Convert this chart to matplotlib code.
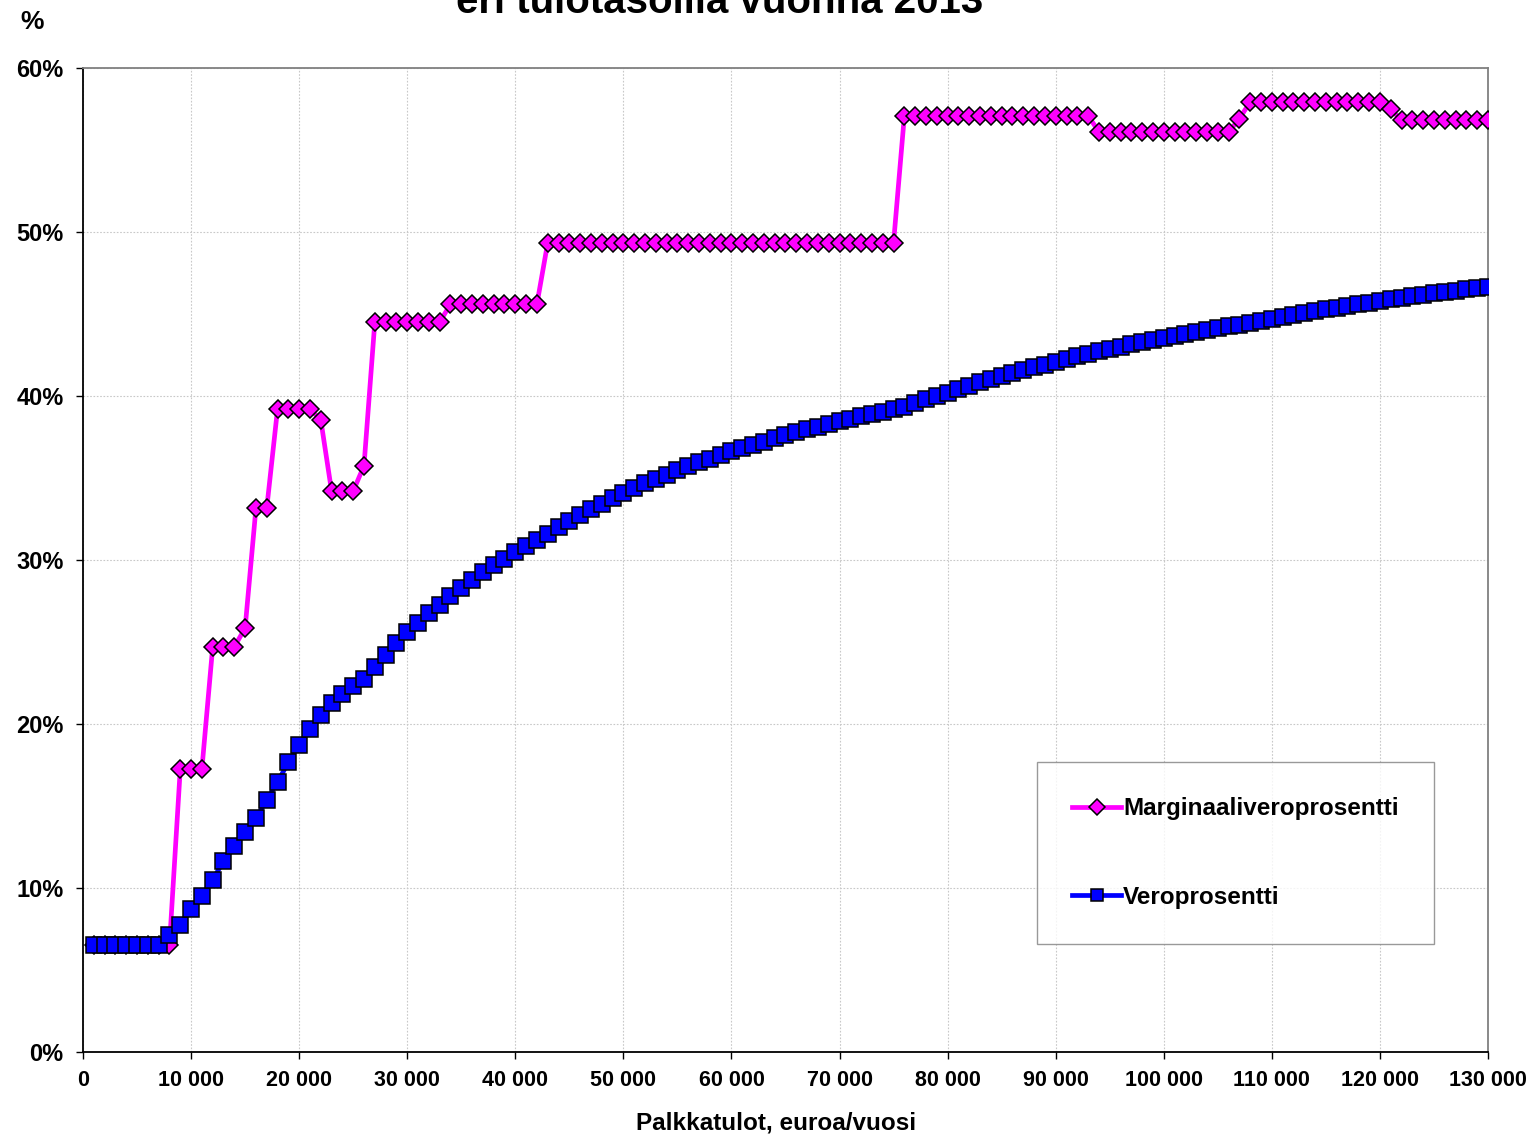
import matplotlib.pyplot as plt
from matplotlib.ticker import FuncFormatter, MultipleLocator

plt.rcParams["font.family"] = ["Liberation Sans", "DejaVu Sans"]
plt.rcParams["font.weight"] = "bold"

# Income levels, euros/year (1 000 ... 130 000)
income = list(range(1000, 131000, 1000))

# Marginal tax rate, %
marginal = (
    [6.5] * 8                                   # 1k-8k
    + [17.25] * 3                               # 9k-11k
    + [24.7] * 3                                # 12k-14k
    + [25.85]                                   # 15k
    + [33.15] * 2                               # 16k-17k
    + [39.2] * 4                                # 18k-21k
    + [38.55]                                   # 22k
    + [34.2] * 3                                # 23k-25k
    + [35.75]                                   # 26k
    + [44.5] * 7                                # 27k-33k
    + [45.6] * 9                                # 34k-42k
    + [49.35] * 33                              # 43k-75k
    + [57.1] * 18                               # 76k-93k
    + [56.1] * 13                               # 94k-106k
    + [56.9]                                    # 107k
    + [57.95] * 13                              # 108k-120k
    + [57.5]                                    # 121k
    + [56.8] * 9                                # 122k-130k
)

# Average tax rate, %
average = [
    6.5, 6.5, 6.5, 6.5, 6.5, 6.5, 6.5, 7.11, 7.76, 8.72,
    9.49, 10.51, 11.63, 12.54, 13.40, 14.27, 15.35, 16.46, 17.66, 18.74,
    19.70, 20.57, 21.28, 21.83, 22.30, 22.76, 23.50, 24.23, 24.94, 25.59,
    26.18, 26.77, 27.28, 27.79, 28.29, 28.80, 29.27, 29.72, 30.08, 30.49,
    30.87, 31.20, 31.59, 31.99, 32.36, 32.76, 33.11, 33.43, 33.78, 34.07,
    34.37, 34.68, 34.94, 35.20, 35.47, 35.71, 35.96, 36.18, 36.40, 36.63,
    36.83, 37.03, 37.21, 37.42, 37.60, 37.79, 37.96, 38.13, 38.29, 38.46,
    38.62, 38.76, 38.90, 39.04, 39.19, 39.33, 39.55, 39.80, 40.00, 40.20,
    40.41, 40.63, 40.83, 41.04, 41.20, 41.38, 41.57, 41.75, 41.91, 42.09,
    42.26, 42.42, 42.58, 42.74, 42.89, 43.01, 43.15, 43.27, 43.40, 43.54,
    43.66, 43.78, 43.90, 44.02, 44.13, 44.25, 44.35, 44.47, 44.59, 44.71,
    44.82, 44.94, 45.06, 45.16, 45.28, 45.38, 45.49, 45.59, 45.69, 45.79,
    45.89, 45.99, 46.08, 46.18, 46.26, 46.34, 46.42, 46.51, 46.59, 46.67,
]

fig = plt.figure(figsize=(15.39, 11.38), dpi=100)
ax = fig.add_axes([83 / 1539, 1 - 1052 / 1138, 1405 / 1539, 984 / 1138])

ax.plot(income, marginal, color="#FF00FF", linewidth=3.4, marker="D",
        markersize=9.5, markerfacecolor="#FF00FF", markeredgecolor="black",
        markeredgewidth=1.1, label="Marginaaliveroprosentti", zorder=3)
ax.plot(income, average, color="#0000FF", linewidth=3.4, marker="s",
        markersize=11, markerfacecolor="#0000FF", markeredgecolor="black",
        markeredgewidth=1.1, label="Veroprosentti", zorder=4)

ax.set_xlim(0, 130000)
ax.set_ylim(0, 60)
ax.xaxis.set_major_locator(MultipleLocator(10000))
ax.yaxis.set_major_locator(MultipleLocator(10))
ax.xaxis.set_major_formatter(FuncFormatter(lambda v, p: f"{int(v):,}".replace(",", " ")))
ax.yaxis.set_major_formatter(FuncFormatter(lambda v, p: f"{int(v)}%"))
ax.tick_params(axis="both", direction="out", length=5, width=1)
ax.tick_params(axis="x", labelsize=15.5, pad=8)
ax.tick_params(axis="y", labelsize=17, pad=9)
for lbl in ax.get_xticklabels() + ax.get_yticklabels():
    lbl.set_fontweight("bold")

ax.grid(True, color="#c8c8c8", linestyle=(0, (1.5, 1.5)), linewidth=0.8)
ax.set_axisbelow(True)

ax.spines["left"].set_color("black")
ax.spines["bottom"].set_color("black")
ax.spines["top"].set_color("#808080")
ax.spines["right"].set_color("#808080")
for s in ax.spines.values():
    s.set_linewidth(1.3)

ax.set_xlabel("Palkkatulot, euroa/vuosi", fontsize=17.5, fontweight="bold", labelpad=15)
ax.xaxis.label.set_x((776 - 83) / 1405)

fig.text(32 / 1539, 1 - 22 / 1138, "%", fontsize=19, fontweight="bold",
         ha="center", va="center")
fig.text(720 / 1539, 1 - 13 / 1138,
         "Marginaaliveroprosentti ja veroprosentti\neri tulotasoilla vuonna 2013",
         fontsize=29, fontweight="bold", ha="center", va="baseline")

leg = ax.legend(loc="upper left", bbox_to_anchor=(0.679, 0.2947), borderaxespad=0,
                frameon=True, fancybox=False, edgecolor="#808080",
                handlelength=2.0, handletextpad=0.1, borderpad=1.45,
                labelspacing=2.7, prop={"weight": "bold", "size": 17.5})
leg.get_frame().set_linewidth(1.0)
for h in leg.legend_handles:
    h.set_markersize(8)

fig.savefig("out.png", dpi=100)
